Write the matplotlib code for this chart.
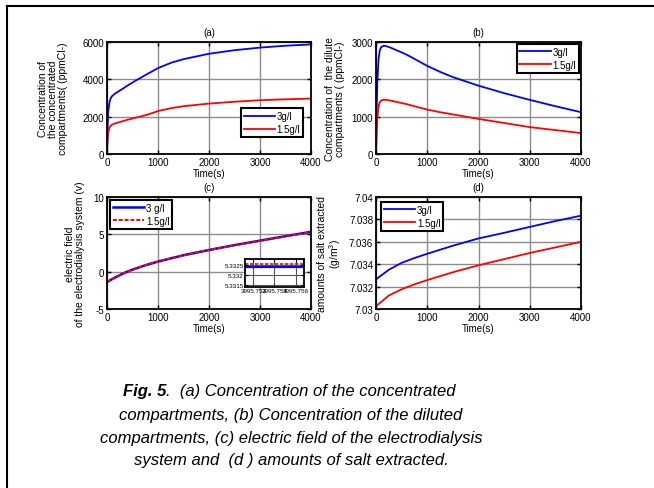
import numpy as np
import matplotlib
matplotlib.use("Agg")
from matplotlib import pyplot as plt
from matplotlib.lines import Line2D
from matplotlib.ticker import FixedLocator, FixedFormatter

plt.rcParams['font.family'] = ['Liberation Sans', 'DejaVu Sans']
plt.rcParams['font.size'] = 7
plt.rcParams['axes.unicode_minus'] = False
plt.rcParams['mathtext.fontset'] = 'custom'
plt.rcParams['mathtext.rm'] = 'Liberation Sans'

# (a) concentrated compartments
t_a = [0, 10, 25, 50, 75, 100, 150, 200, 300, 400, 500, 600, 800, 1000, 1250, 1500, 2000, 2500, 3000, 3500, 4000]
conc_3 = [0, 1200, 2300, 2800, 3000, 3100, 3220, 3310, 3480, 3660, 3830, 3990, 4300, 4600, 4880, 5080, 5370, 5560, 5700, 5800, 5870]
conc_15 = [0, 600, 1150, 1420, 1520, 1570, 1630, 1670, 1750, 1830, 1900, 1970, 2110, 2300, 2450, 2560, 2700, 2800, 2880, 2930, 2970]

# (b) dilute compartments
t_b = [0, 10, 25, 50, 75, 100, 150, 200, 300, 400, 500, 600, 800, 1000, 1250, 1500, 2000, 2500, 3000, 3500, 4000]
dil_3 = [0, 900, 1900, 2550, 2780, 2860, 2900, 2890, 2840, 2780, 2720, 2660, 2510, 2360, 2200, 2060, 1830, 1630, 1450, 1280, 1120]
dil_15 = [0, 450, 950, 1270, 1390, 1430, 1455, 1450, 1425, 1395, 1365, 1335, 1260, 1190, 1120, 1060, 940, 830, 720, 640, 560]

# (c) electric field
t_c = [0, 100, 200, 300, 400, 500, 750, 1000, 1500, 2000, 2500, 3000, 3500, 4000]
field_3 = [-1.4, -1.0, -0.65, -0.3, 0.0, 0.27, 0.85, 1.35, 2.2, 2.9, 3.55, 4.15, 4.75, 5.3322]
field_15 = [-1.4, -1.0, -0.65, -0.3, 0.0, 0.27, 0.85, 1.35, 2.2, 2.9, 3.55, 4.15, 4.75, 5.3325]
# inset zoom near the end
t_zoom = [3995.7512, 3995.7568]
zoom_3 = [5.33238, 5.33238]
zoom_15 = [5.33254, 5.33254]
zoom_xticks = [3995.752, 3995.754, 3995.756]
zoom_xlabels = ['3995.752', '3995.754', '3995.756']
zoom_yticks = [5.3315, 5.332, 5.3325]
zoom_ylabels = ['5.3315', '5.332', '5.3325']

# (d) amount of salt extracted
t_d = [0, 250, 500, 750, 1000, 1500, 2000, 2500, 3000, 3500, 4000]
salt_3 = [7.03265, 7.0335, 7.03412, 7.03455, 7.03493, 7.03565, 7.0363, 7.0368, 7.03733, 7.03785, 7.03833]
salt_15 = [7.03024, 7.0312, 7.03176, 7.0322, 7.03258, 7.03328, 7.0339, 7.03445, 7.035, 7.0355, 7.036]

W, H = 654, 489
fig = plt.figure(figsize=(W / 100, H / 100), dpi=100)


def box(x0, y0, x1, y1):
    # pixel box (top-left origin) -> figure fraction
    return [x0 / W, 1 - y1 / H, (x1 - x0) / W, (y1 - y0) / H]


def style(ax):
    ax.grid(True, color='#8c8c8c', lw=1.0)
    ax.set_axisbelow(True)
    ax.tick_params(direction='in', top=True, right=True, length=3, width=1, pad=2, labelsize=7)
    for s in ax.spines.values():
        s.set_linewidth(1.3)
    ax.set_xlim(0, 4000)
    ax.set_xticks([0, 1000, 2000, 3000, 4000])
    ax.set_xlabel('Time(s)', fontsize=7, labelpad=1)


def legend(ax, labels, pad=0.6, **kw):
    leg = ax.legend(labels, fontsize=7, fancybox=False, framealpha=1, edgecolor='black',
                    handlelength=3.2, handletextpad=0.2, borderpad=0.3, labelspacing=0.3,
                    borderaxespad=pad, **kw)
    leg.get_frame().set_linewidth(1.5)
    return leg


# (a)
ax1 = fig.add_axes(box(107, 43, 311, 155))
ax1.plot(t_a, conc_3, color='blue', lw=1.3)
ax1.plot(t_a, conc_15, color='red', lw=1.3)
style(ax1)
ax1.set_ylim(0, 6000)
ax1.set_yticks([0, 2000, 4000, 6000])
ax1.set_title('(a)', fontsize=7, pad=5)
ax1.set_ylabel('Concentration of\nthe concentrated\ncompartments( (ppmCl-)', fontsize=7.5, linespacing=1.0)
ax1.yaxis.set_label_coords(-0.19, 0.5)
legend(ax1, ['3g/l', '1.5g/l'], loc='lower right', bbox_to_anchor=(0.99, 0.1))

# (b)
ax2 = fig.add_axes(box(376, 43, 581, 155))
ax2.plot(t_b, dil_3, color='blue', lw=1.3)
ax2.plot(t_b, dil_15, color='red', lw=1.3)
style(ax2)
ax2.set_ylim(0, 3000)
ax2.set_yticks([0, 1000, 2000, 3000])
ax2.set_title('(b)', fontsize=7, pad=5)
ax2.set_ylabel('Concentration of  the dilute\ncompartments ( (ppmCl-)', fontsize=7.5, linespacing=1.0)
ax2.yaxis.set_label_coords(-0.15, 0.5)
legend(ax2, ['3g/l', '1.5g/l'], pad=0.2, loc='upper right')

# (c)
ax3 = fig.add_axes(box(107, 198, 311, 310))
ax3.plot(t_c, field_3, color='blue', lw=1.8)
ax3.plot(t_c, field_15, color='red', lw=1.4, ls=(0, (2, 1)))
style(ax3)
ax3.set_ylim(-5, 10)
ax3.set_yticks([-5, 0, 5, 10])
ax3.set_title('(c)', fontsize=7, pad=5)
ax3.set_ylabel('electric field\nof the electrodialysis system (v)', fontsize=7.5, linespacing=1.0)
ax3.yaxis.set_label_coords(-0.11, 0.5)
legend(ax3, ['3 g/l', '1.5g/l'], pad=0.3, loc='upper left')

axin = fig.add_axes(box(245, 260, 304, 288))
axin.plot(t_zoom, zoom_3, color='blue', lw=1.6)
axin.plot(t_zoom, zoom_15, color='red', lw=1.2, ls=(0, (2, 1)))
axin.set_xlim(t_zoom[0], t_zoom[1])
axin.set_ylim(5.3314, 5.3328)
axin.xaxis.set_major_locator(FixedLocator(zoom_xticks))
axin.xaxis.set_major_formatter(FixedFormatter(zoom_xlabels))
axin.yaxis.set_major_locator(FixedLocator(zoom_yticks))
axin.yaxis.set_major_formatter(FixedFormatter(zoom_ylabels))
axin.grid(True, color='#555555', lw=0.8)
axin.tick_params(direction='in', top=True, right=True, length=2, labelsize=4.5, pad=1)
for s in axin.spines.values():
    s.set_linewidth(1.3)

# (d)
ax4 = fig.add_axes(box(376, 198, 581, 310))
ax4.plot(t_d, salt_3, color='blue', lw=1.3)
ax4.plot(t_d, salt_15, color='red', lw=1.3)
style(ax4)
ax4.set_ylim(7.03, 7.04)
ax4.set_yticks([7.03, 7.032, 7.034, 7.036, 7.038, 7.04])
ax4.set_yticklabels(['7.03', '7.032', '7.034', '7.036', '7.038', '7.04'])
ax4.set_title('(d)', fontsize=7, pad=5)
ax4.set_ylabel('amounts of salt extracted\n(g/m$^3$)', fontsize=7.5, linespacing=1.0)
ax4.yaxis.set_label_coords(-0.16, 0.5)
legend(ax4, ['3g/l', '1.5g/l'], pad=0.5, loc='upper left')

# frame around the figure
fig.add_artist(Line2D([7 / W, 7 / W], [0, 1 - 7 / H], color='black', lw=1.5))
fig.add_artist(Line2D([7 / W, 1], [1 - 7 / H, 1 - 7 / H], color='black', lw=1.5))

# caption
cap_fs = 12
t1 = fig.text(123 / W, 1 - 392 / H, 'Fig. 5', fontsize=cap_fs, fontweight='bold', style='italic',
              ha='left', va='center')
fig.add_artist(plt.Annotation('.  (a) Concentration of the concentrated', xy=(1, 0.5), xycoords=t1,
                              fontsize=cap_fs, style='italic', ha='left', va='center',
                              annotation_clip=False))
caption_lines = ['compartments, (b) Concentration of the diluted',
                 'compartments, (c) electric field of the electrodialysis',
                 'system and  (d ) amounts of salt extracted.']
caption_y = [416, 439, 461]
for line, yy in zip(caption_lines, caption_y):
    fig.text(291 / W, 1 - yy / H, line, fontsize=cap_fs, style='italic', ha='center', va='center')

fig.savefig('out.png', dpi=100)
